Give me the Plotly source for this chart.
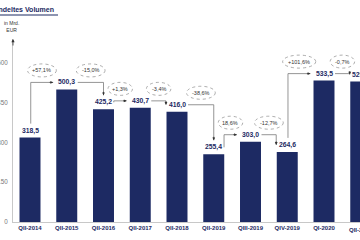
import plotly.graph_objects as go

# ---- data ----
categories = ["QII-2014", "QII-2015", "QII-2016", "QII-2017", "QII-2018",
              "QII-2019", "QIII-2019", "QIV-2019", "QI-2020", "QII-2020"]
volumes = [318.5, 500.3, 425.2, 430.7, 416.0, 255.4, 303.0, 264.6, 533.5, 529.8]
changes = ["+57,1%", "-15,0%", "+1,3%", "-3,4%", "-38,6%",
           "18,6%", "-12,7%", "+101,6%", "-0,7%"]
y_ticks = [0, 150, 300, 450, 600]
title_text = "Gehandeltes Volumen"
unit_text = "in Mrd.<br>EUR"

# ---- layout geometry / style ----
W, H = 360, 240
ML, MR, MT, MB = 13, 0, 39, 18
plot_w = W - ML - MR
plot_h = H - MT - MB
px_per_cat = 36.75
first_center_px = 30
x_start = -(first_center_px - ML) / px_per_cat
x_range = [x_start, x_start + plot_w / px_per_cat]
px_per_unit = 0.265
y_range = [0, plot_h / px_per_unit]
UY = 1 / px_per_unit          # data units per pixel (y)

NAVY = "#1d2a63"
GREY_LINE = "#7a7a7a"
AXIS_GREY = "#c8c8c8"
FONT = "Liberation Sans, Arial, sans-serif"


def fmt(v):
    return f"{v:.1f}".replace(".", ",")


def paper_x(px):
    return (px - ML) / plot_w


def paper_y(py):
    return (H - MB - py) / plot_h


def x_anchor(i):
    """Anchor inside the visible x range plus a pixel shift, so labels of a
    category that sits at the cut edge are still drawn (and clipped)."""
    xa = min(i, x_range[1] - 1e-3)
    return xa, (i - xa) * px_per_cat


idx = list(range(len(categories)))

fig = go.Figure()
fig.add_trace(go.Bar(x=idx, y=volumes, width=0.571, marker_color=NAVY,
                     marker_line_width=0, hoverinfo="skip"))

annotations = []
shapes = []

# value labels
for i, v in enumerate(volumes):
    xa, xs_px = x_anchor(i)
    annotations.append(dict(x=xa, xshift=xs_px, y=v + 7 * UY,
                            xref="x", yref="y", text=fmt(v),
                            showarrow=False, xanchor="center", yanchor="middle",
                            font=dict(family=FONT, size=6.8, color=NAVY, weight="bold")))

# category labels beyond the visible range (partially cut at the edge)
for i, c in enumerate(categories):
    if i > x_range[1]:
        xa, xs_px = x_anchor(i)
        annotations.append(dict(x=xa, xshift=xs_px, y=paper_y(229.5),
                                xref="x", yref="paper", text=c,
                                showarrow=False, xanchor="center", yanchor="middle",
                                font=dict(family=FONT, size=6, color=NAVY, weight="bold")))

# connectors with change ellipses
for i in range(len(volumes) - 1):
    v0, v1 = volumes[i], volumes[i + 1]
    L0, L1 = v0 + 7 * UY, v1 + 7 * UY
    dpx = (L1 - L0) * px_per_unit
    if v1 >= v0:
        if dpx > 14:
            xs, ys = i + 0.02, L0 + 7 * UY
        else:
            xs, ys = i + 0.28, L0
        xe = i + 1 - 0.37
        pts = [(xs, ys), (xs, L1), (xe, L1)]
        level = L1
        head = dict(x=xe, y=L1, ax=-5, ay=0)
    else:
        xs = i + 0.3
        if -dpx > 14:
            xe, ye = i + 1, L1 + 7 * UY
        else:
            xe, ye = i + 1 - 0.3, L1
        pts = [(xs, L0), (xe, L0), (xe, ye)]
        level = L0
        head = dict(x=xe, y=ye, ax=0, ay=-5)
    fig.add_trace(go.Scatter(x=[p[0] for p in pts], y=[p[1] for p in pts],
                             mode="lines", line=dict(color=GREY_LINE, width=0.8),
                             hoverinfo="skip", showlegend=False))
    annotations.append(dict(xref="x", yref="y", text="", showarrow=True,
                            arrowhead=2, arrowsize=0.7, arrowwidth=0.8,
                            arrowcolor="#333333", standoff=0, **head))
    cx = (xs + xe) / 2
    cy = level + 12 * UY
    label = changes[i]
    ew = 4.3 * len(label) + 3
    shapes.append(dict(type="circle", xref="x", yref="y",
                       xsizemode="pixel", ysizemode="pixel",
                       xanchor=cx, yanchor=cy,
                       x0=-ew / 2, x1=ew / 2, y0=-6.5, y1=6.5,
                       line=dict(color="#8a8a8a", width=0.7, dash="dot")))
    annotations.append(dict(x=cx, y=cy, xref="x", yref="y", text=label,
                            showarrow=False, xanchor="center", yanchor="middle",
                            font=dict(family=FONT, size=5.5, color="#333333")))

# title and underline
annotations.append(dict(x=paper_x(56), y=paper_y(9), xref="paper", yref="paper",
                        text=title_text, showarrow=False, xanchor="right",
                        yanchor="middle",
                        font=dict(family=FONT, size=7, color=NAVY, weight="bold")))
shapes.append(dict(type="line", xref="paper", yref="paper",
                   x0=paper_x(-2), x1=paper_x(58), y0=paper_y(15), y1=paper_y(15),
                   line=dict(color=NAVY, width=1.2)))

# unit label
annotations.append(dict(x=paper_x(11), y=paper_y(27), xref="paper", yref="paper",
                        text=unit_text, showarrow=False, xanchor="center",
                        yanchor="middle", align="center",
                        font=dict(family=FONT, size=5, color="#333333")))

# y-axis arrow head
annotations.append(dict(x=0, y=1, xref="paper", yref="paper", text="",
                        showarrow=True, ax=0, ay=8, arrowhead=2, arrowsize=0.8,
                        arrowwidth=0.8, arrowcolor="#333333", standoff=0))

fig.update_layout(
    width=W, height=H,
    margin=dict(l=ML, r=MR, t=MT, b=MB, pad=0),
    paper_bgcolor="white", plot_bgcolor="white",
    showlegend=False,
    annotations=annotations, shapes=shapes,
    xaxis=dict(range=x_range, tickvals=idx, ticktext=categories,
               showline=True, linecolor=AXIS_GREY, linewidth=1,
               showgrid=False, zeroline=False, ticks="",
               tickfont=dict(family=FONT, size=6, color=NAVY, weight="bold"),
               automargin=False, fixedrange=True),
    yaxis=dict(range=y_range, tickvals=y_ticks, ticktext=[str(t) for t in y_ticks],
               showline=True, linecolor=AXIS_GREY, linewidth=1,
               showgrid=False, zeroline=False, ticks="", ticklabelstandoff=3,
               tickfont=dict(family=FONT, size=6.3, color="#777777"),
               automargin=False, fixedrange=True),
)

fig.write_html("out.html", config={"displayModeBar": False})
